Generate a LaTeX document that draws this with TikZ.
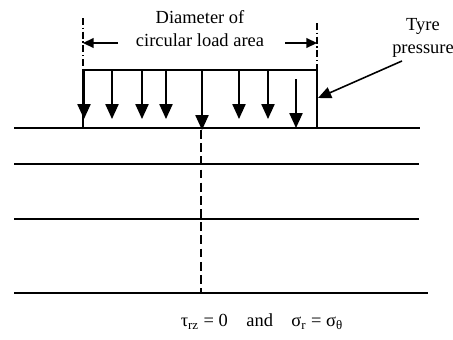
\documentclass[tikz,border=0pt]{standalone}
\usepackage{fontspec}
\setmainfont{Liberation Serif}
\usetikzlibrary{arrows.meta, positioning, calc}

\begin{document}
\begin{tikzpicture}[x=0.02cm, y=-0.02cm, line width=0.9pt,
        load/.style={-{Triangle[width=7.5pt,length=8.5pt]}},
        dimarrow/.style={-{Triangle[width=5.5pt,length=6pt]}},
        ptr/.style={-{Triangle[width=6.5pt,length=7.5pt]}},
        axisline/.style={line width=0.6pt, dash pattern=on 4pt off 1.5pt on 0.8pt off 1.5pt},
        label/.style={align=center, inner sep=1pt, font=\fontsize{10.5}{13}\selectfont}]
        \useasboundingbox (0,0) rectangle (453,339);

        % soil layers
        \foreach \y/\r in {128/420, 164/419, 219/419, 293/428}
            \draw (14,\y) -- (\r,\y);

        % load area
        \coordinate (LB) at (83,128);
        \coordinate (LT) at (83,70);
        \coordinate (RT) at (317,70);
        \coordinate (RB) at (317,128);
        \draw (LB) -- (LT) -- (RT) -- (RB);

        % pressure arrows
        \foreach \x in {84,112,142,166,239,268}
            \draw[load] (\x,70) -- (\x,119);
        \draw[load] (296,79) -- (296,128);
        \draw[load] (202,70) -- (202,130);
        \coordinate (C0) at (201,130);
        \coordinate (C1) at (201,293);
        \draw[dashed, dash pattern=on 5pt off 2.5pt] (C0) -- (C1);

        % diameter
        \coordinate (DL) at (83,18);
        \coordinate (DR) at (317,23);
        \draw[axisline] (DL) -- (LT);
        \draw[axisline] (DR) -- (RT);
        \node[label] (diam) at (200,29) {Diameter of\\circular load area};
        \coordinate (AL) at (118,43);
        \coordinate (AR) at (285,43);
        \draw[dimarrow] (AL) -- (LT |- AL);
        \draw[dimarrow] (AR) -- (RT |- AR);

        % tyre pressure
        \node[label] (tyre) at (423,38) {Tyre\\pressure};
        \coordinate (tip) at (318,98);
        \draw[ptr] ($(tyre.south)+(-21,1)$) -- (tip);

        \node[font=\fontsize{10.5}{13}\selectfont] (cond) at (262,322)
        {τ\textsubscript{rz} = 0\quad and\quad σ\textsubscript{r} = σ\textsubscript{θ}};

\end{tikzpicture}
\end{document}
